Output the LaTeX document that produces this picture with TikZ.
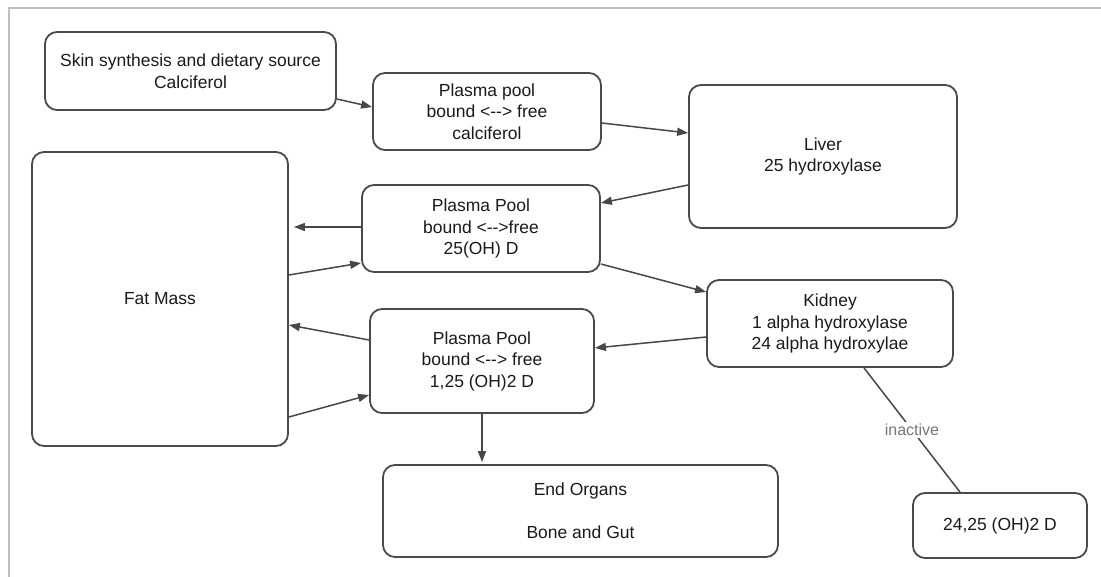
\documentclass[tikz,border=0pt]{standalone}
\usepackage{fontspec}
\setmainfont{Liberation Sans}
\usetikzlibrary{arrows.meta}

\definecolor{boxgray}{HTML}{4A4A4A}
\definecolor{arrowgray}{HTML}{474747}
\definecolor{textgray}{HTML}{1A1A1A}
\definecolor{framegray}{HTML}{BFBFBF}
\definecolor{labelgray}{HTML}{767676}

\tikzset{
    box/.style={draw=boxgray, line width=1.8pt, rounded corners=12pt, align=center,
        text=textgray, inner sep=0pt, font=\fontsize{17.5}{21.5}\selectfont},
    flow/.style={draw=arrowgray, line width=1.5pt, -{Triangle[length=11pt, width=8pt]}},
    link/.style={draw=arrowgray, line width=1.5pt},
    tag/.style={fill=white, text=labelgray, inner sep=2pt, font=\fontsize{16}{19}\selectfont},
}

\begin{document}
\begin{tikzpicture}[x=1pt, y=-1pt]
            \useasboundingbox (0, 0) rectangle (1101, 577);
            \draw[framegray, line width=1.2pt] (9, 577) -- (9, 8) -- (1101, 8);

            \node[box, minimum width=291pt, minimum height=78pt] (skin) at (190.5, 71)
                {Skin synthesis and dietary source\\Calciferol};
            \node[box, minimum width=228pt, minimum height=77pt] (pool1) at (487, 111.5)
                {Plasma pool\\bound <{-}{-}> free\\calciferol};
            \node[box, minimum width=268pt, minimum height=143pt] (liver) at (823, 156.5)
                {Liver\\25 hydroxylase};
            \node[box, minimum width=238pt, minimum height=87pt] (pool2) at (481, 228.5)
                {Plasma Pool\\bound <{-}{-}>free\\25(OH) D};
            \node[box, minimum width=256pt, minimum height=294pt] (fat) at (160, 299)
                {Fat Mass};
            \node[box, minimum width=246pt, minimum height=87pt] (kidney) at (830, 323.5)
                {Kidney\\1 alpha hydroxylase\\24 alpha hydroxylae};
            \node[box, minimum width=224pt, minimum height=104pt] (pool3) at (482, 361)
                {Plasma Pool\\bound <{-}{-}> free\\1,25 (OH)2 D};
            \node[box, minimum width=395pt, minimum height=92pt] (organs) at (580.5, 511)
                {End Organs\\[21.5pt]Bone and Gut};
            \node[box, minimum width=174pt, minimum height=65pt] (product) at (1000, 525.5)
                {24,25 (OH)2 D};

            \draw[flow] ([yshift=-28pt]skin.east) -- ([yshift=4.5pt]pool1.west);
            \draw[flow] ([yshift=-11.5pt]pool1.east) -- ([yshift=23.5pt]liver.west);
            \draw[flow] ([yshift=-28.5pt]liver.west) -- ([yshift=25.5pt]pool2.east);
            \draw[flow, shorten >=5pt] ([yshift=1.5pt]pool2.west) -- ([yshift=1.5pt]pool2.west -| fat.east);
            \draw[flow] ([yshift=24pt]fat.east) -- ([yshift=-34.5pt]pool2.west);
            \draw[flow] ([yshift=21pt]pool3.west) -- ([yshift=-26pt]fat.east);
            \draw[flow] ([yshift=-118pt]fat.east) -- ([yshift=-34pt]pool3.west);
            \draw[flow] ([yshift=-35.5pt]pool2.east) -- ([yshift=31.5pt]kidney.west);
            \draw[flow] ([yshift=-13.5pt]kidney.west) -- ([yshift=13pt]pool3.east);
            \draw[flow, shorten >=2pt] (pool3.south) -- (pool3.south |- organs.north);

            % no arrow head on the inactive branch
            \draw[link] ([xshift=34pt]kidney.south) -- node[tag] {inactive} ([xshift=-40pt]product.north);
        \end{tikzpicture}
\end{document}
